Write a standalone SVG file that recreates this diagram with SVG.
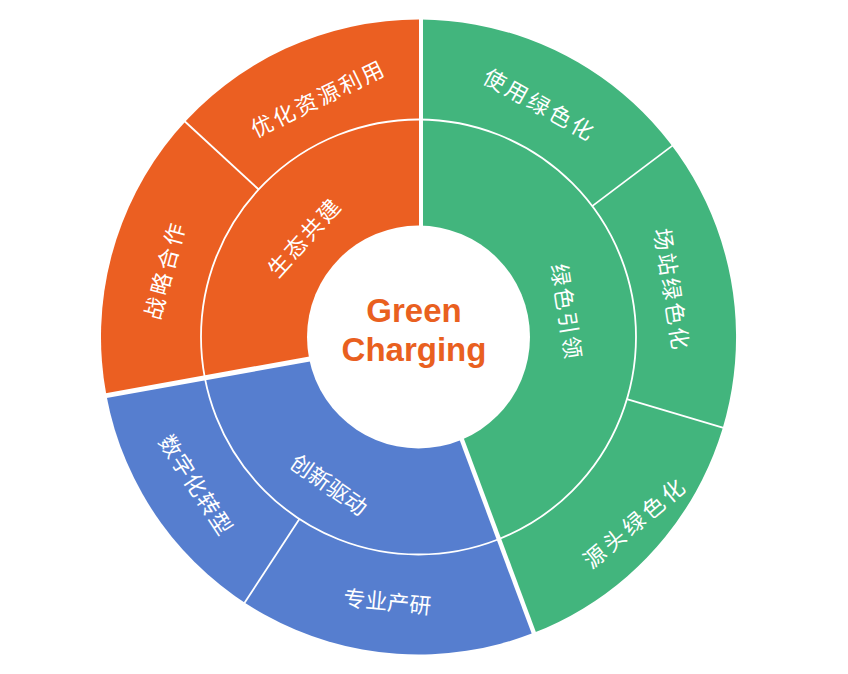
<svg xmlns="http://www.w3.org/2000/svg" width="848" height="674" viewBox="0 0 848 674">
<style>
.o{fill:#EB5F22}
.g{fill:#42B57D}
.b{fill:#567ECF}
.lbl{font-family:"Noto Sans CJK SC","Noto Sans",sans-serif;font-size:22px;fill:#fff;text-anchor:middle;dominant-baseline:central}
.gap{stroke:#fff;fill:none}
.sep{stroke:#fff;stroke-width:1.8;fill:none}
.ctr{font-family:"Liberation Sans",Arial,sans-serif;font-weight:bold;font-size:33px;fill:#E9601F;text-anchor:middle}
</style>
<rect width="848" height="674" fill="#fff"/>
<g id="node-lvseyinling">
<path class="g" d="M421,237 L421,19.5 A317.5,317.5 0 0 1 533.74,632.86 L456.8,426 Z"/>
</g>
<g id="node-chuangxinqudong">
<path class="b" d="M456.8,426 L533.74,632.86 A317.5,317.5 0 0 1 106.44,395.55 L325,356.2 Z"/>
</g>
<g id="node-shengtaigongjian">
<path class="o" d="M325,356.2 L106.44,395.55 A317.5,317.5 0 0 1 421,19.5 L421,237 Z"/>
</g>
<g id="borders">
<circle cx="418.5" cy="337" r="111.5" fill="#fff"/>
<circle class="sep" cx="418.5" cy="337" r="217.5"/>
<line class="sep" x1="592.2" y1="206.1" x2="674.1" y2="144.4"/>
<line class="sep" x1="626.9" y1="399.1" x2="725.2" y2="428.4"/>
<line class="sep" x1="299.4" y1="519" x2="243.3" y2="604.8"/>
<line class="sep" x1="258.7" y1="189.5" x2="183.3" y2="120"/>
<line class="gap" stroke-width="4" x1="421" y1="237" x2="421" y2="14"/>
<line class="gap" stroke-width="4.5" x1="456.8" y1="426" x2="536" y2="638.8"/>
<line class="gap" stroke-width="5" x1="325" y1="356.2" x2="100.6" y2="396.6"/>
</g>
<g id="labels">
<g id="label-lvseyinling"><text class="lbl" style="letter-spacing:2.5px" transform="translate(568.3,312) rotate(81)">绿色引领</text></g>
<g id="label-chuangxinqudong"><text class="lbl" transform="translate(330,483.3) rotate(35)">创新驱动</text></g>
<g id="label-shengtaigongjian"><text class="lbl" style="letter-spacing:2.5px" transform="translate(303.3,235.8) rotate(-48)">生态共建</text></g>
<g id="node-shiyonglvsehua"><text class="lbl" style="letter-spacing:3px" transform="translate(540.8,103.3) rotate(29)">使用绿色化</text></g>
<g id="node-changzhanlvsehua"><text class="lbl" style="letter-spacing:3px" transform="translate(673.5,290) rotate(81)">场站绿色化</text></g>
<g id="node-yuantoulvsehua"><text class="lbl" style="letter-spacing:3.5px" transform="translate(634,521) rotate(-40)">源头绿色化</text></g>
<g id="node-zhuanyechanyan"><text class="lbl" transform="translate(387.5,600) rotate(5.5)">专业产研</text></g>
<g id="node-shuzihuazhuanxing"><text class="lbl" style="letter-spacing:1px" transform="translate(197.5,484.2) rotate(57)">数字化转型</text></g>
<g id="node-zhanlvehezuo"><text class="lbl" style="letter-spacing:3.5px" transform="translate(163.3,269.2) rotate(-75)">战略合作</text></g>
<g id="node-youhuaziyuanliyong"><text class="lbl" style="letter-spacing:2.5px" transform="translate(317.5,96.7) rotate(-26)">优化资源利用</text></g>
</g>
<g id="node-center">
<text class="ctr"><tspan x="414" y="322">Green</tspan><tspan x="414" y="361">Charging</tspan></text>
</g>
</svg>
